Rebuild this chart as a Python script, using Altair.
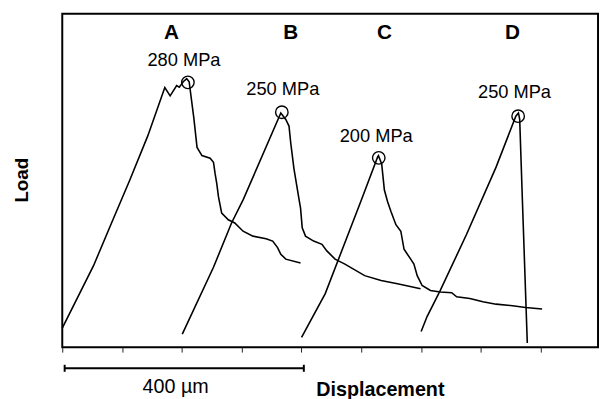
import altair as alt
import pandas as pd

# Curve A (displacement in µm, load in arbitrary units)
A_x = [0, 52.3, 82.4, 112.8, 143.0, 171.5, 180.4, 191.3, 195.7, 202.3, 208.1, 212.2, 220.0, 225.4,
       233.6, 247.3, 252.9, 255.6, 258.4, 261.2, 266.6, 277.7, 288.5, 302.4, 318.9, 340.8, 351.9,
       360.1, 365.5, 373.8, 398.5]
A_load = [20.1, 86.0, 131.1, 176.2, 223.0, 274.0, 265.3, 276.1, 274.5, 280.2, 283.4, 280.2, 242.0, 210.8,
          202.2, 199.4, 195.2, 183.1, 172.7, 158.8, 141.5, 134.5, 131.1, 122.4, 117.2, 114.5, 112.0,
          105.1, 98.1, 92.9, 88.8]

B_x = [200.7, 252.9, 283.1, 302.4, 365.5, 373.8, 379.2, 382.0, 387.5, 395.7, 398.5, 401.3, 406.8,
       420.4, 434.3, 442.5, 456.2, 472.7, 505.7, 533.2, 560.6, 599.2]
B_load = [13.8, 84.3, 131.1, 155.4, 247.2, 240.4, 233.4, 216.0, 188.3, 157.1, 146.7, 125.9, 117.2,
          112.0, 108.5, 101.6, 92.9, 87.7, 75.5, 70.3, 66.9, 61.7]

C_x = [400.2, 439.8, 500.2, 527.6, 528.8, 534.2, 538.7, 544.1, 549.7, 558.0, 566.2, 571.6, 582.7,
       588.1, 593.6, 601.8, 615.7, 632.2, 651.3, 659.6, 681.6, 703.5, 725.5, 753.0, 774.9, 802.5]
C_load = [10.4, 56.5, 155.4, 201.1, 202.2, 193.5, 165.8, 153.6, 143.2, 129.3, 122.4, 103.3, 92.9,
          87.7, 75.5, 65.1, 59.9, 58.3, 57.5, 53.1, 51.3, 47.9, 45.4, 43.7, 41.9, 40.2]

D_x = [600.2, 610.1, 632.2, 676.0, 725.5, 758.5, 762.9, 765.0, 769.5, 777.7]
D_load = [16.6, 32.3, 59.9, 118.9, 190.0, 243.8, 247.2, 240.4, 155.4, 4.5]

# Peak markers and labels
peak_names = ["A", "B", "C", "D"]
peak_x = [210.1, 367.2, 529.3, 762.4]
peak_load = [279.5, 248.0, 199.8, 243.8]
stress_labels = ["280 MPa", "250 MPa", "200 MPa", "250 MPa"]
stress_x = [203.5, 368.8, 525.0, 756.3]
stress_load = [303.1, 271.9, 223.0, 269.1]
letter_x = [182.5, 382.0, 538.7, 753.0]
letter_load = [331.2, 331.2, 331.2, 331.2]

tick_values = [0, 100, 200, 300, 400, 500, 600, 700, 800]
X_MAX = 896
Y_MAX = 352

FONT = "Liberation Sans"

rows = []
for name, xs, ls in [("A", A_x, A_load), ("B", B_x, B_load), ("C", C_x, C_load), ("D", D_x, D_load)]:
    for i, (xv, lv) in enumerate(zip(xs, ls)):
        rows.append({"curve": name, "i": i, "disp": xv, "load": lv})
curves = pd.DataFrame(rows)

peaks = pd.DataFrame({"curve": peak_names, "disp": peak_x, "load": peak_load})
stress = pd.DataFrame({"label": stress_labels, "disp": stress_x, "load": stress_load})
letters = pd.DataFrame({"label": peak_names, "disp": letter_x, "load": letter_load})

xscale = alt.Scale(domain=[0, X_MAX], nice=False, zero=False)
yscale = alt.Scale(domain=[0, Y_MAX], nice=False, zero=False)

xaxis = alt.Axis(values=tick_values, labels=False, title=None, domain=False, grid=False,
                 ticks=True, tickSize=5, tickColor="#222", tickWidth=1)

lines = alt.Chart(curves).mark_line(color="black", strokeWidth=1.6).encode(
    x=alt.X("disp:Q", scale=xscale, axis=xaxis),
    y=alt.Y("load:Q", scale=yscale, axis=None),
    detail="curve:N",
    order="i:Q",
)

circles = alt.Chart(peaks).mark_point(shape="circle", size=160, color="black", strokeWidth=1.4,
                                      filled=False, opacity=1).encode(
    x=alt.X("disp:Q", scale=xscale),
    y=alt.Y("load:Q", scale=yscale),
)

stress_text = alt.Chart(stress).mark_text(font=FONT, fontSize=18.5, color="black",
                                          baseline="middle", align="center").encode(
    x=alt.X("disp:Q", scale=xscale),
    y=alt.Y("load:Q", scale=yscale),
    text="label:N",
)

letter_text = alt.Chart(letters).mark_text(font=FONT, fontSize=21, fontWeight="bold", color="black",
                                           baseline="middle", align="center").encode(
    x=alt.X("disp:Q", scale=xscale),
    y=alt.Y("load:Q", scale=yscale),
    text="label:N",
)

# scale bar (400 µm) below the axis
bar = pd.DataFrame({"x0": [4], "x1": [404], "load": [-22.3]})
caps = pd.DataFrame({"disp": [4, 404], "lo": [-26.0, -26.0], "hi": [-18.6, -18.6]})
scale_bar = alt.Chart(bar).mark_rule(color="black", strokeWidth=2).encode(
    x=alt.X("x0:Q", scale=xscale), x2="x1:Q", y=alt.Y("load:Q", scale=yscale)
)
scale_caps = alt.Chart(caps).mark_rule(color="black", strokeWidth=2).encode(
    x=alt.X("disp:Q", scale=xscale), y=alt.Y("lo:Q", scale=yscale), y2="hi:Q"
)

annot = pd.DataFrame({
    "label": ["400 µm", "Displacement", "Load"],
    "disp": [189.5, 532.0, -67.3],
    "load": [-42.0, -45.5, 176.2],
})
bar_label = alt.Chart(annot.iloc[[0]]).mark_text(font=FONT, fontSize=20, color="black",
                                                 baseline="middle", align="center").encode(
    x=alt.X("disp:Q", scale=xscale), y=alt.Y("load:Q", scale=yscale), text="label:N"
)
x_title = alt.Chart(annot.iloc[[1]]).mark_text(font=FONT, fontSize=20, fontWeight="bold", color="black",
                                               baseline="middle", align="center").encode(
    x=alt.X("disp:Q", scale=xscale), y=alt.Y("load:Q", scale=yscale), text="label:N"
)
y_title = alt.Chart(annot.iloc[[2]]).mark_text(font=FONT, fontSize=19, fontWeight="bold", color="black",
                                               baseline="middle", align="center", angle=270).encode(
    x=alt.X("disp:Q", scale=xscale), y=alt.Y("load:Q", scale=yscale), text="label:N"
)

chart = alt.layer(
    lines, circles, stress_text, letter_text, scale_bar, scale_caps, bar_label, x_title, y_title
).properties(
    width=543, height=338,
    autosize=alt.AutoSizeParams(type="none"),
    padding={"left": 55, "top": 3, "right": 2, "bottom": 66},
).configure(
    background="white"
).configure_view(
    stroke="black", strokeWidth=2
)

chart.save("out.html", embed_options={"renderer": "svg", "actions": False})
